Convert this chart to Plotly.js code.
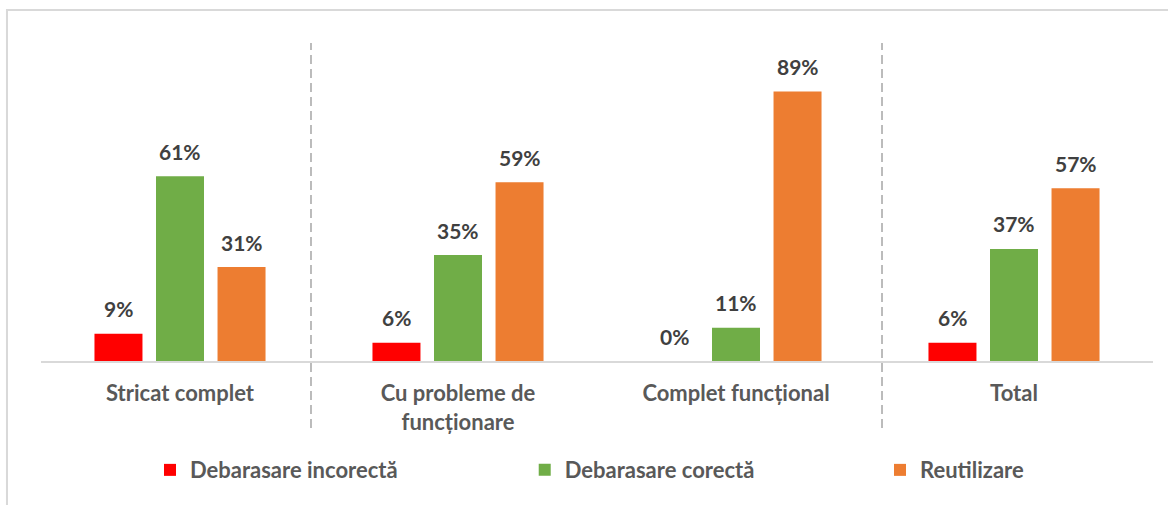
<!DOCTYPE html>
<html>
<head>
<meta charset="utf-8">
<script src="https://cdn.plot.ly/plotly-3.0.1.min.js"></script>
<style>html,body{margin:0;padding:0;background:#fff;}#chart{width:1168px;height:505px;}</style>
</head>
<body>
<div id="chart"></div>
<script>
var categories = ["Stricat complet", "Cu probleme de<br>funcționare", "Complet funcțional", "Total"];
var seriesNames = ["Debarasare incorectă", "Debarasare corectă", "Reutilizare"];
var debarasareIncorecta = [9, 6, 0, 6];
var debarasareCorecta = [61, 35, 11, 37];
var reutilizare = [31, 59, 89, 57];
var seriesColors = ["#ff0000", "#70ad47", "#ed7d31"];

var allSeries = [debarasareIncorecta, debarasareCorecta, reutilizare];
var FONT = "Lato, 'Open Sans', sans-serif";
var legendIds = ["legend", "legend2", "legend3"];
var legendX = [0.098, 0.435, 0.7545];

var traces = allSeries.map(function (vals, i) {
  return {
    type: "bar",
    name: seriesNames[i],
    x: categories,
    y: vals,
    marker: { color: seriesColors[i] },
    legend: legendIds[i],
    hoverinfo: "skip"
  };
});

var annotations = [];
var offsets = [-61.5, 0, 61.5];
allSeries.forEach(function (vals, i) {
  vals.forEach(function (v, k) {
    annotations.push({
      x: categories[k], y: v, xref: "x", yref: "y",
      text: v + "%", showarrow: false,
      xshift: offsets[i], yshift: 25,
      font: { family: FONT, size: 21, color: "#404040", weight: "bold" }
    });
  });
});

var legendBase = {
  orientation: "h", yanchor: "middle", y: -0.343, xanchor: "left",
  font: { family: FONT, size: 22, color: "#595959", weight: "bold" },
  bgcolor: "rgba(0,0,0,0)"
};
var layout = {
  width: 1168, height: 505,
  margin: { l: 41, r: 15, t: 43, b: 144 },
  paper_bgcolor: "#ffffff", plot_bgcolor: "#ffffff",
  barmode: "group", bargap: 0.336, bargroupgap: 0.22,
  showlegend: true,
  xaxis: {
    type: "category",
    showline: true, linecolor: "#d9d9d9", linewidth: 1.5,
    ticks: "", showgrid: false, zeroline: false,
    ticklabelstandoff: 12,
    tickfont: { family: FONT, size: 22, color: "#595959", weight: "bold" },
    fixedrange: true
  },
  yaxis: {
    range: [0, 105], visible: false, showgrid: false, zeroline: false, fixedrange: true
  },
  annotations: annotations,
  shapes: [
    { type: "rect", xref: "paper", yref: "paper", x0: -0.0306, x1: 1.05, y0: -0.6, y1: 1.1038,
      line: { color: "#d9d9d9", width: 2 }, fillcolor: "rgba(0,0,0,0)", layer: "below" },
    { type: "line", xref: "paper", yref: "paper", x0: 0.2428, x1: 0.2428, y0: -0.2107, y1: 1.0,
      line: { color: "#a6a6a6", width: 1.5, dash: "9px,5px" } },
    { type: "line", xref: "paper", yref: "paper", x0: 0.7563, x1: 0.7563, y0: -0.2107, y1: 1.0,
      line: { color: "#a6a6a6", width: 1.5, dash: "9px,5px" } }
  ]
};
legendIds.forEach(function (id, i) {
  layout[id] = Object.assign({}, legendBase, { x: legendX[i] });
});

Plotly.newPlot("chart", traces, layout, { displayModeBar: false, staticPlot: true });
</script>
</body>
</html>
